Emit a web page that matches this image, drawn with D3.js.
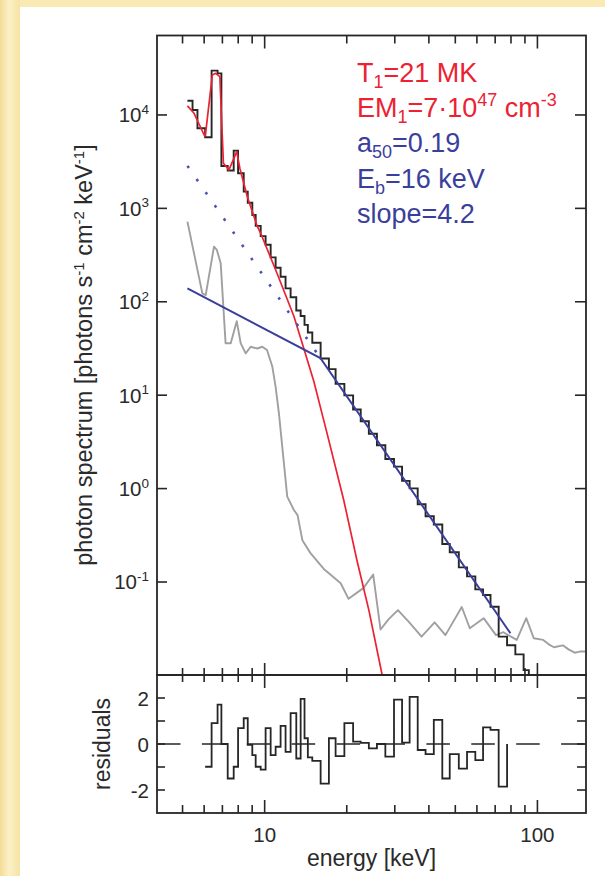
<!DOCTYPE html>
<html><head><meta charset="utf-8">
<script src="https://cdn.jsdelivr.net/npm/d3@7"></script>
<style>
html,body{margin:0;padding:0;background:#f8e8ad;}
svg{display:block;}
text{font-family:"Liberation Sans", Arial, Helvetica, sans-serif;}
</style></head><body>
<svg id="chart" width="605" height="876"></svg>
<script>
// ---------------- data ----------------
// observed photon spectrum (histogram): bin edges [keV] and values
const specEdges = [5.21, 5.44, 5.67, 6.05, 6.39, 6.72, 6.94, 7.32, 7.70, 7.99, 8.38, 8.67, 9.01, 9.27, 9.67,
  10.08, 10.52, 10.97, 11.44, 11.93, 12.45, 13.06, 13.55, 14.0, 14.4, 14.95, 16.04, 17.2, 18.2, 19.6, 21.1,
  22.5, 24.1, 25.8, 27.7, 29.8, 31.9, 34.0, 36.4, 38.9, 41.7, 44.8, 47.7, 51.5, 55.2, 59.2, 63.2, 67.3, 72.1,
  77.4, 83.0, 89.0, 93.0, 99.0];
const specValues = [14200, 11300, 7200, 5770, 29800, 27900, 2840, 2540, 4150, 2380, 1510, 1150, 850, 650,
  505, 408, 299, 231, 185, 139, 112, 80.6, 70.4, 56.6, 46.9, 36.4, 24.7, 19.0, 13.2, 9.95, 7.03, 5.26, 3.87,
  2.91, 2.07, 1.72, 1.21, 1.005, 0.68, 0.505, 0.412, 0.255, 0.208, 0.1435, 0.115, 0.0833, 0.0725, 0.0544,
  0.026, 0.021, 0.0168, 0.0114, 0.004];

// thermal model (red)
const thermE = [5.21, 5.5, 6.0, 6.06, 6.43, 6.61, 6.85, 7.06, 7.40, 7.90, 8.11, 8.64, 9.4, 9.67, 11.1, 12.8,
  13.9, 15.15, 16.9, 19.5, 21.8, 24.1, 26.8, 27.6];
const thermV = [12500, 10500, 6100, 5960, 26800, 27900, 25700, 3040, 2580, 4050, 2690, 1330, 640, 541, 202, 70,
  32, 14, 4.0, 0.75, 0.17, 0.05, 0.011, 0.0072];

// broken power law (blue solid) and its extension below the break (blue dotted)
const bplE = [5.21, 16, 79.6];
const bplV = [139, 25, 0.0283];
const extE = [5.21, 16];
const extV = [2850, 25];

// background (grey)
const bkgE = [5.21, 5.91, 6.08, 6.52, 6.68, 6.90, 7.19, 7.51, 7.90, 8.17, 8.52, 8.89, 9.40, 9.80, 10.2, 10.67,
  10.97, 11.28, 12.1, 12.8, 13.2, 13.75, 14.7, 16.5, 17.2, 19.0, 20.3, 23.0, 25.0, 26.6, 28.5, 30.8, 33.9, 37.6,
  42.0, 46.0, 52.8, 56.5, 63.5, 70.5, 75.0, 80.0, 84.0, 91.0, 97.0, 105, 110, 115, 124, 130, 137, 143, 150];
const bkgV = [721, 123, 118, 389, 359, 258, 36, 36, 62, 36, 28, 33, 31.6, 33, 30.4, 20.2,
  12.3, 6.4, 0.82, 0.59, 0.52, 0.28, 0.205, 0.137, 0.124, 0.097, 0.066, 0.086, 0.12, 0.031, 0.040, 0.050, 0.037, 0.026,
  0.037, 0.027, 0.054, 0.032, 0.041, 0.027, 0.029, 0.026, 0.024, 0.041, 0.025, 0.024, 0.0215, 0.020, 0.021, 0.019, 0.0175, 0.018, 0.018];

// residuals (histogram)
const residEdges = [6.05, 6.39, 6.72, 6.94, 7.32, 7.70, 7.99, 8.38, 8.67, 9.01, 9.27, 9.67, 10.08, 10.52, 10.97,
  11.44, 11.93, 12.45, 13.06, 13.55, 14.0, 14.4, 14.95, 16.04, 17.2, 18.2, 19.6, 21.1, 22.5, 24.1, 25.8, 27.7,
  29.8, 31.9, 34.0, 36.4, 38.9, 41.7, 44.8, 47.7, 51.5, 55.2, 59.2, 63.2, 67.3, 72.1, 77.4];
const residValues = [-0.99, 0.91, 1.71, 0.0, -1.50, -0.99, 0.69, 1.12, -0.04, -0.48, -0.99, -1.11, 0.69, -0.48,
  -0.12, 0.79, -0.34, 1.34, -0.63, 1.96, 0.25, -0.58, -0.73, -1.72, 0.25, -0.53, 0.91, 0.10, 0.05, -0.19, 0.0,
  -0.55, 1.93, 0.06, 2.05, -0.26, -0.44, 1.05, -1.50, -0.44, -1.07, -0.34, -0.70, 0.72, 0.61, -1.85];

// ticks
const xMinorTicks = [5, 6, 7, 8, 9, 20, 30, 40, 50, 60, 70, 80, 90];
const xMajorTicks = [10, 100];
const xTickLabels = ["10", "100"];
const yExponents = [-1, 0, 1, 2, 3, 4];
const rTicks = [-2, -1, 0, 1, 2];
const rTickLabels = [[2, "2"], [0, "0"], [-2, "-2"]];

// ---------------- drawing ----------------
const svg = d3.select("#chart");
const L = 157, R = 586, T = 35.5, MB = 675, RB = 813;
const ink = "#262626", red = "#ec2233", blue = "#3b3f9c", grey = "#a0a0a0";

const defs = svg.append("defs");
const lg = defs.append("linearGradient").attr("id", "lstrip").attr("x1", 0).attr("x2", 1).attr("y1", 0).attr("y2", 0);
lg.append("stop").attr("offset", "0%").attr("stop-color", "#f4dc98");
lg.append("stop").attr("offset", "45%").attr("stop-color", "#fcf0c6");
lg.append("stop").attr("offset", "100%").attr("stop-color", "#f6e3a4");
svg.append("rect").attr("x", 0).attr("y", 0).attr("width", 605).attr("height", 876).attr("fill", "#f9eab4");
svg.append("rect").attr("x", 0).attr("y", 0).attr("width", 20).attr("height", 876).attr("fill", "url(#lstrip)");
svg.append("rect").attr("x", 20).attr("y", 7).attr("width", 585).attr("height", 869).attr("fill", "#ffffff");

defs.append("clipPath").attr("id", "cmain").append("rect").attr("x", L).attr("y", T).attr("width", R - L).attr("height", MB - T);
defs.append("clipPath").attr("id", "cres").append("rect").attr("x", L).attr("y", MB).attr("width", R - L).attr("height", RB - MB);

const x = d3.scaleLog().domain([4.03, 150.7]).range([L, R]);
const y = d3.scaleLog().domain([0.0101, 70900]).range([MB, T]);
const yr = d3.scaleLinear().domain([-3, 3]).range([RB, MB]);

function stepPts(edges, vals) {
  const p = vals.map((v, i) => [edges[i], v]);
  p.push([edges[vals.length], vals[vals.length - 1]]);
  return p;
}
const lineMain = d3.line().x(d => x(d[0])).y(d => y(d[1]));
const stepMain = d3.line().x(d => x(d[0])).y(d => y(d[1])).curve(d3.curveStepAfter);
const stepRes = d3.line().x(d => x(d[0])).y(d => yr(d[1])).curve(d3.curveStepAfter);

const gm = svg.append("g").attr("clip-path", "url(#cmain)");
// background
gm.append("path").attr("d", lineMain(bkgE.map((e, i) => [e, bkgV[i]])))
  .attr("fill", "none").attr("stroke", grey).attr("stroke-width", 1.9).attr("stroke-linejoin", "round");
// observed spectrum
gm.append("path").attr("d", stepMain(stepPts(specEdges, specValues)))
  .attr("fill", "none").attr("stroke", ink).attr("stroke-width", 1.9);
// thermal
gm.append("path").attr("d", lineMain(thermE.map((e, i) => [e, thermV[i]])))
  .attr("fill", "none").attr("stroke", red).attr("stroke-width", 1.7).attr("stroke-linejoin", "round");
// extension dotted
gm.append("path").attr("d", lineMain(extE.map((e, i) => [e, extV[i]])))
  .attr("fill", "none").attr("stroke", "#4a50b4").attr("stroke-width", 2.6).attr("stroke-dasharray", "2.6,13.4");
// broken power law
gm.append("path").attr("d", lineMain(bplE.map((e, i) => [e, bplV[i]])))
  .attr("fill", "none").attr("stroke", blue).attr("stroke-width", 2);

// residual panel
const gr = svg.append("g").attr("clip-path", "url(#cres)");
gr.append("line").attr("x1", L).attr("x2", R).attr("y1", yr(0)).attr("y2", yr(0))
  .attr("stroke", ink).attr("stroke-width", 1.6).attr("stroke-dasharray", "23.5,21.4");
const rp = stepPts(residEdges, residValues);
rp.push([residEdges[residEdges.length - 1], 0]);
gr.append("path").attr("d", stepRes(rp)).attr("fill", "none").attr("stroke", ink).attr("stroke-width", 1.8);

// frames
const frame = svg.append("g").attr("stroke", ink).attr("stroke-width", 1.8).attr("fill", "none");
frame.append("rect").attr("x", L).attr("y", T).attr("width", R - L).attr("height", MB - T);
frame.append("rect").attr("x", L).attr("y", MB).attr("width", R - L).attr("height", RB - MB);

// x ticks
const tk = svg.append("g").attr("stroke", ink).attr("stroke-width", 1.6);
function xt(v, y1, y2) { tk.append("line").attr("x1", x(v)).attr("x2", x(v)).attr("y1", y1).attr("y2", y2); }
xMinorTicks.forEach(v => { xt(v, T, T + 8); xt(v, MB - 7, MB + 7); xt(v, RB - 8, RB); });
xMajorTicks.forEach(v => { xt(v, T, T + 13); xt(v, MB - 12, MB + 13); xt(v, RB - 13, RB); });
// y ticks main
yExponents.forEach(e => {
  const yy = y(Math.pow(10, e));
  tk.append("line").attr("x1", L).attr("x2", L + 10).attr("y1", yy).attr("y2", yy);
  tk.append("line").attr("x1", R - 11).attr("x2", R).attr("y1", yy).attr("y2", yy);
});
rTicks.forEach(v => {
  const yy = yr(v);
  tk.append("line").attr("x1", L).attr("x2", L + 8).attr("y1", yy).attr("y2", yy);
  tk.append("line").attr("x1", R - 9).attr("x2", R).attr("y1", yy).attr("y2", yy);
});

// tick labels
const lab = svg.append("g").attr("fill", "#2a2a2a");
yExponents.forEach(e => {
  const t = lab.append("text").attr("x", 149).attr("y", y(Math.pow(10, e)) + 7.5)
    .attr("text-anchor", "end").attr("font-size", 20.5);
  t.append("tspan").text("10");
  t.append("tspan").attr("dy", -8.5).attr("font-size", 13.5).text(String(e));
});
rTickLabels.forEach(([v, s]) => {
  lab.append("text").attr("x", 149).attr("y", yr(v) + 7.5).attr("text-anchor", "end").attr("font-size", 20.5).text(s);
});
xMajorTicks.forEach((v, i) => {
  lab.append("text").attr("x", x(v)).attr("y", 842).attr("text-anchor", "middle").attr("font-size", 20.5).text(xTickLabels[i]);
});

// axis titles
lab.append("text").attr("x", 371.5).attr("y", 866).attr("text-anchor", "middle").attr("font-size", 23).text("energy [keV]");
lab.append("text").attr("transform", "translate(110,744) rotate(-90)").attr("text-anchor", "middle").attr("font-size", 23).text("residuals");
const yl = lab.append("text").attr("transform", "translate(92,355) rotate(-90)").attr("text-anchor", "middle").attr("font-size", 23.5);
yl.append("tspan").text("photon spectrum [photons s");
yl.append("tspan").attr("dy", -8).attr("font-size", 15).text("-1");
yl.append("tspan").attr("dy", 8).text(" cm");
yl.append("tspan").attr("dy", -8).attr("font-size", 15).text("-2");
yl.append("tspan").attr("dy", 8).text(" keV");
yl.append("tspan").attr("dy", -8).attr("font-size", 15).text("-1");
yl.append("tspan").attr("dy", 8).text("]");

// annotations
const ann = svg.append("g").attr("font-size", 27);
function annLine(yy, color, parts) {
  const t = ann.append("text").attr("x", 357).attr("y", yy).attr("fill", color);
  parts.forEach(([s, kind]) => {
    const ts = t.append("tspan").text(s);
    if (kind === "sub") ts.attr("dy", 6).attr("font-size", 18);
    else if (kind === "sup") ts.attr("dy", -11).attr("font-size", 18);
    else if (kind === "back-sub") ts.attr("dy", -6);
    else if (kind === "back-sup") ts.attr("dy", 11);
  });
}
annLine(81.5, red, [["T"], ["1", "sub"], ["=21 MK", "back-sub"]]);
annLine(116.5, red, [["EM"], ["1", "sub"], ["=7\u00B710", "back-sub"], ["47", "sup"], [" cm", "back-sup"], ["-3", "sup"]]);
annLine(152, blue, [["a"], ["50", "sub"], ["=0.19", "back-sub"]]);
annLine(187.5, blue, [["E"], ["b", "sub"], ["=16 keV", "back-sub"]]);
annLine(223, blue, [["slope=4.2"]]);
</script>
</body></html>
